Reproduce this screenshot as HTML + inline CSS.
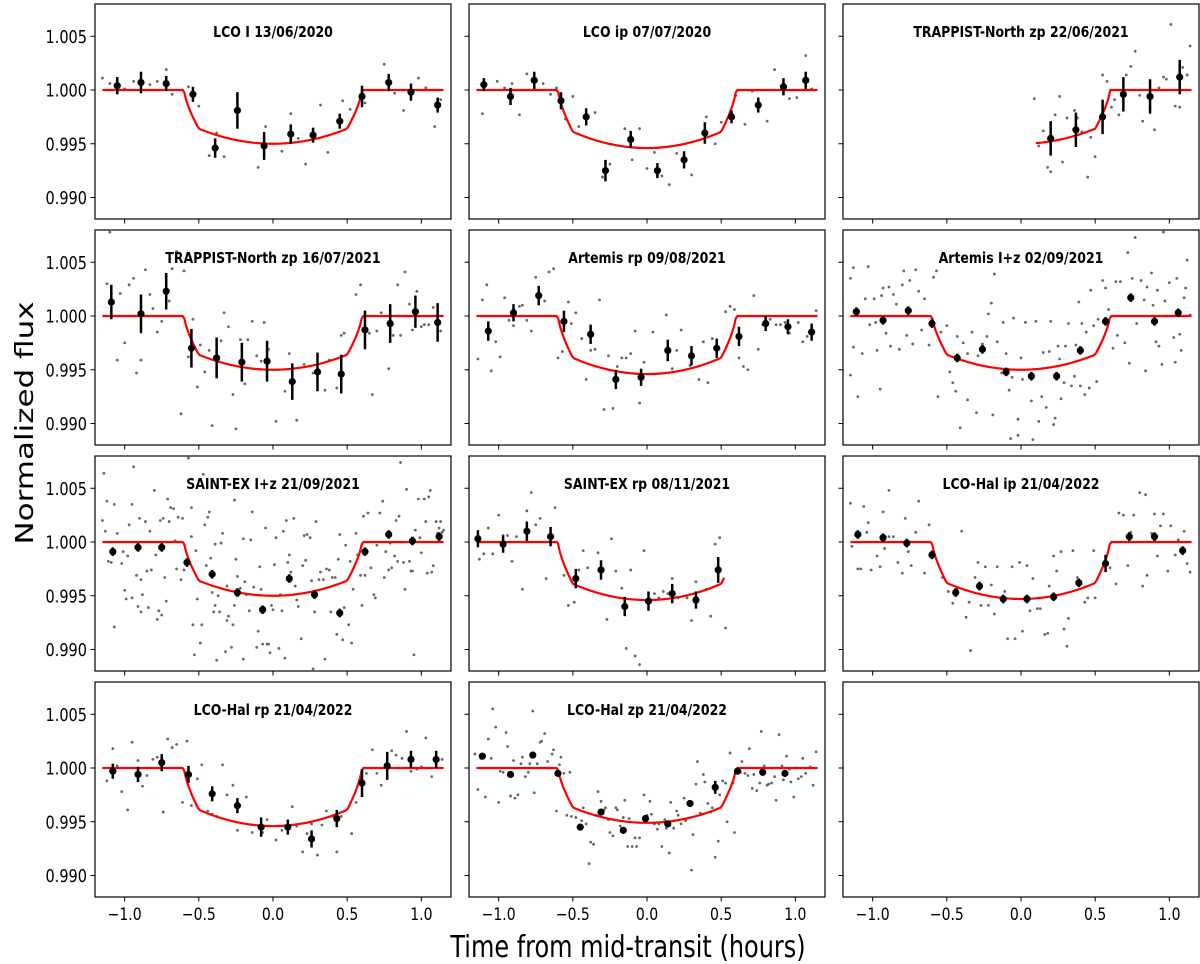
<!DOCTYPE html>
<html><head><meta charset="utf-8"><style>
html,body{margin:0;padding:0;background:#fff;}
svg{display:block;font-family:"DejaVu Sans","Liberation Sans",sans-serif;}
</style></head><body>
<svg id="fig" width="1200" height="964" viewBox="0 0 1200 964" xmlns="http://www.w3.org/2000/svg">
<text x="0" y="0" font-size="31" text-anchor="middle" transform="translate(33 423) rotate(-90) scale(1 0.8)">Normalized flux</text>
<text x="0" y="0" font-size="24" text-anchor="middle" transform="translate(628 957) scale(1 1.27)">Time from mid-transit (hours)</text>
</svg>
<script>
const titles=["LCO I 13/06/2020","LCO ip 07/07/2020","TRAPPIST-North zp 22/06/2021","TRAPPIST-North zp 16/07/2021","Artemis rp 09/08/2021","Artemis I+z 02/09/2021","SAINT-EX I+z 21/09/2021","SAINT-EX rp 08/11/2021","LCO-Hal ip 21/04/2022","LCO-Hal rp 21/04/2022","LCO-Hal zp 21/04/2022"];
const depths=[5.0,5.4,5.0,5.0,5.4,5.0,5.0,5.4,5.3,5.4,5.1];
const modelStart=[-1.15,-1.15,0.1,-1.15,-1.15,-1.15,-1.15,-1.15,-1.15,-1.15,-1.15];
const modelEnd=[1.15,1.15,1.15,1.15,1.15,1.15,1.15,0.52,1.15,1.15,1.15];
const xTicks=[-1.0,-0.5,0.0,0.5,1.0];
const xTickLabels=["\u22121.0","\u22120.5","0.0","0.5","1.0"];
const yTicks=[5,0,-5,-10];
const yTickLabels=["1.005","1.000","0.995","0.990"];
const binT=[
[-1.05,-0.89,-0.72,-0.54,-0.39,-0.24,-0.06,0.12,0.27,0.45,0.60,0.78,0.93,1.11],
[-1.10,-0.92,-0.76,-0.58,-0.41,-0.28,-0.11,0.07,0.25,0.39,0.57,0.75,0.92,1.07],
[0.2,0.37,0.55,0.69,0.87,1.07],
[-1.09,-0.89,-0.72,-0.55,-0.38,-0.21,-0.04,0.13,0.30,0.46,0.62,0.79,0.96,1.11],
[-1.07,-0.90,-0.73,-0.56,-0.38,-0.21,-0.04,0.14,0.30,0.47,0.62,0.80,0.95,1.11],
[-1.11,-0.93,-0.76,-0.60,-0.43,-0.26,-0.10,0.07,0.24,0.40,0.57,0.74,0.90,1.06],
[-1.08,-0.91,-0.75,-0.58,-0.41,-0.24,-0.07,0.11,0.28,0.45,0.62,0.78,0.94,1.12],
[-1.14,-0.97,-0.81,-0.65,-0.48,-0.31,-0.15,0.01,0.17,0.33,0.48],
[-1.1,-0.93,-0.77,-0.60,-0.44,-0.28,-0.12,0.04,0.22,0.39,0.57,0.73,0.90,1.09],
[-1.08,-0.91,-0.75,-0.57,-0.41,-0.24,-0.08,0.10,0.26,0.43,0.60,0.77,0.93,1.10],
[-1.11,-0.92,-0.77,-0.60,-0.45,-0.31,-0.16,-0.01,0.14,0.29,0.46,0.61,0.78,0.93]];
const binF=[
[0.4,0.7,0.6,-0.4,-5.4,-1.9,-5.2,-4.1,-4.2,-2.9,-0.6,0.7,-0.2,-1.4],
[0.5,-0.6,0.9,-1.0,-2.5,-7.5,-4.6,-7.5,-6.5,-4.0,-2.5,-1.4,0.3,0.9],
[-4.5,-3.7,-2.5,-0.4,-0.6,1.2],
[1.3,0.2,2.3,-3.0,-3.9,-4.3,-4.2,-6.1,-5.2,-5.4,-1.3,-0.7,0.4,-0.6],
[-1.4,0.3,1.9,-0.5,-1.7,-5.9,-5.7,-3.2,-3.7,-3.0,-1.9,-0.7,-1.0,-1.5],
[0.4,-0.4,0.5,-0.7,-3.9,-3.1,-5.2,-5.6,-5.6,-3.2,-0.5,1.7,-0.5,0.3],
[-0.9,-0.5,-0.5,-1.9,-3.0,-4.7,-6.3,-3.4,-4.9,-6.6,-0.9,0.7,0.1,0.5],
[0.3,-0.2,1.0,0.5,-3.4,-2.6,-6.0,-5.5,-4.8,-5.4,-2.6],
[0.7,0.4,-0.1,-1.2,-4.7,-4.1,-5.3,-5.3,-5.1,-3.8,-2.0,0.5,0.5,-0.8],
[-0.3,-0.6,0.5,-0.6,-2.4,-3.5,-5.5,-5.5,-6.6,-4.7,-1.4,0.2,0.8,0.8],
[1.1,-0.6,1.2,-0.5,-5.5,-4.1,-5.8,-4.7,-5.2,-3.3,-1.8,-0.3,-0.4,-0.5]];
const binE=[
[0.8,1.0,0.7,0.7,0.9,1.7,1.3,0.9,0.7,0.7,1.0,0.8,0.8,0.7],
[0.6,0.8,0.8,0.8,0.8,1.0,0.8,0.7,0.8,1.0,0.6,0.7,0.8,0.8],
[1.6,1.6,1.6,1.6,1.6,1.6],
[1.6,1.8,1.7,1.8,1.9,1.8,1.9,1.7,1.8,1.8,1.8,1.8,1.5,1.8],
[0.9,0.8,0.9,1.0,0.9,0.9,0.8,1.0,0.9,0.9,0.9,0.7,0.7,0.8],
[0.4,0.4,0.4,0.4,0.4,0.4,0.4,0.4,0.4,0.4,0.4,0.4,0.4,0.4],
[0.4,0.4,0.4,0.4,0.4,0.4,0.4,0.4,0.4,0.4,0.4,0.4,0.4,0.4],
[0.8,0.8,0.9,0.9,0.9,0.9,0.9,0.9,0.9,0.8,1.2],
[0.4,0.4,0.4,0.4,0.4,0.4,0.4,0.4,0.4,0.4,0.8,0.4,0.4,0.4],
[0.7,0.7,0.8,0.8,0.7,0.7,0.9,0.7,0.8,0.8,1.3,1.3,0.8,0.8],
[0.3,0.3,0.3,0.3,0.3,0.3,0.3,0.3,0.3,0.3,0.6,0.3,0.3,0.3]];
const scatT=[
[-1.15,-1.1,-1.0,-0.94,-0.83,-0.78,-0.72,-0.68,-0.61,-0.57,-0.5,-0.43,-0.38,-0.33,-0.1,-0.05,0.06,0.12,0.17,0.22,0.32,0.37,0.45,0.47,0.52,0.62,0.75,0.82,0.88,0.98,1.03,1.09,1.13],
[-1.11,-1.01,-0.96,-0.91,-0.86,-0.81,-0.70,-0.65,-0.61,-0.55,-0.50,-0.46,-0.35,-0.30,-0.25,-0.15,-0.10,-0.05,0,0.05,0.10,0.15,0.20,0.30,0.40,0.46,0.50,0.60,0.66,0.71,0.81,0.86,0.96,1.01,1.07,1.11],
[0.09,0.12,0.15,0.18,0.2,0.23,0.26,0.28,0.31,0.36,0.38,0.41,0.45,0.47,0.5,0.55,0.58,0.61,0.63,0.66,0.71,0.74,0.77,0.80,0.82,0.87,0.90,0.93,0.96,0.98,1.01,1.04,1.07,1.09,1.12,1.14],
[-1.12,-1.10,-1.05,-1.03,-1.0,-0.97,-0.94,-0.92,-0.89,-0.86,-0.83,-0.81,-0.78,-0.75,-0.70,-0.68,-0.65,-0.62,-0.60,-0.57,-0.54,-0.51,-0.49,-0.46,-0.43,-0.41,-0.38,-0.35,-0.33,-0.30,-0.27,-0.25,-0.22,-0.19,-0.17,-0.14,-0.11,-0.08,-0.06,-0.03,0.02,0.08,0.11,0.16,0.21,0.27,0.35,0.38,0.43,0.46,0.48,0.56,0.59,0.65,0.67,0.70,0.73,0.78,0.81,0.84,0.86,0.89,0.92,0.94,0.97,1.0,1.02,1.05,1.08,1.11,1.13],
[-1.14,-1.11,-1.08,-1.05,-1.02,-0.99,-0.96,-0.93,-0.90,-0.86,-0.84,-0.81,-0.78,-0.75,-0.69,-0.66,-0.63,-0.60,-0.57,-0.53,-0.51,-0.48,-0.44,-0.41,-0.38,-0.35,-0.32,-0.29,-0.26,-0.23,-0.20,-0.17,-0.14,-0.11,-0.08,-0.05,-0.02,0.04,0.13,0.17,0.20,0.23,0.29,0.35,0.38,0.41,0.44,0.53,0.56,0.59,0.62,0.65,0.68,0.72,0.75,0.78,0.83,0.87,0.90,0.93,0.96,1.02,1.05,1.08,1.14],
[-1.15,-1.15,-1.13,-1.13,-1.10,-1.07,-1.05,-1.03,-1.02,-0.99,-0.98,-0.97,-0.95,-0.94,-0.93,-0.91,-0.89,-0.88,-0.86,-0.84,-0.82,-0.80,-0.79,-0.77,-0.75,-0.73,-0.71,-0.69,-0.67,-0.65,-0.62,-0.59,-0.57,-0.56,-0.54,-0.50,-0.48,-0.46,-0.44,-0.43,-0.41,-0.39,-0.36,-0.36,-0.33,-0.30,-0.29,-0.26,-0.23,-0.22,-0.20,-0.19,-0.18,-0.16,-0.13,-0.12,-0.10,-0.08,-0.07,-0.06,-0.05,-0.02,-0.02,0,0.01,0.03,0.06,0.07,0.08,0.10,0.12,0.14,0.15,0.17,0.19,0.20,0.22,0.23,0.25,0.26,0.27,0.29,0.30,0.32,0.34,0.36,0.37,0.39,0.40,0.41,0.43,0.44,0.46,0.47,0.49,0.51,0.52,0.55,0.57,0.59,0.62,0.64,0.65,0.67,0.70,0.72,0.73,0.75,0.77,0.78,0.81,0.83,0.84,0.85,0.88,0.89,0.91,0.92,0.93,0.95,0.96,0.97,0.98,1.00,1.03,1.04,1.05,1.07,1.08,1.10,1.11,1.12,1.14],
[-1.15,-1.14,-1.13,-1.12,-1.11,-1.09,-1.07,-1.07,-1.05,-1.02,-1.01,-1.00,-0.99,-0.98,-0.97,-0.95,-0.95,-0.94,-0.92,-0.91,-0.90,-0.89,-0.89,-0.88,-0.86,-0.85,-0.84,-0.83,-0.82,-0.80,-0.79,-0.78,-0.77,-0.76,-0.75,-0.74,-0.73,-0.72,-0.71,-0.70,-0.69,-0.67,-0.66,-0.65,-0.64,-0.62,-0.61,-0.60,-0.58,-0.57,-0.55,-0.55,-0.54,-0.53,-0.52,-0.51,-0.49,-0.48,-0.47,-0.46,-0.45,-0.44,-0.43,-0.42,-0.41,-0.40,-0.39,-0.39,-0.38,-0.37,-0.36,-0.35,-0.34,-0.32,-0.31,-0.31,-0.30,-0.28,-0.27,-0.26,-0.26,-0.25,-0.24,-0.22,-0.20,-0.20,-0.19,-0.18,-0.16,-0.15,-0.14,-0.13,-0.11,-0.10,-0.09,-0.08,-0.07,-0.06,-0.05,-0.04,-0.03,-0.02,-0.01,0.00,0.01,0.02,0.04,0.05,0.06,0.07,0.08,0.09,0.10,0.11,0.12,0.14,0.15,0.16,0.17,0.19,0.20,0.21,0.22,0.23,0.25,0.26,0.27,0.28,0.29,0.31,0.32,0.34,0.35,0.36,0.38,0.39,0.40,0.42,0.43,0.44,0.45,0.47,0.48,0.49,0.51,0.52,0.53,0.54,0.56,0.57,0.59,0.60,0.61,0.62,0.64,0.66,0.68,0.69,0.70,0.72,0.74,0.75,0.76,0.78,0.79,0.80,0.82,0.83,0.84,0.85,0.86,0.88,0.89,0.90,0.92,0.93,0.94,0.95,0.96,0.98,0.99,1.00,1.02,1.03,1.04,1.05,1.06,1.07,1.08,1.10,1.11,1.12,1.13,1.14,1.15],
[-1.13,-1.10,-1.07,-1.04,-1.00,-0.97,-0.94,-0.91,-0.88,-0.84,-0.81,-0.78,-0.75,-0.72,-0.68,-0.65,-0.62,-0.56,-0.53,-0.49,-0.46,-0.43,-0.40,-0.33,-0.27,-0.24,-0.21,-0.17,-0.14,-0.11,-0.08,-0.05,-0.02,0.05,0.08,0.11,0.14,0.17,0.21,0.27,0.30,0.33,0.40,0.43,0.46,0.49,0.53],
[-1.15,-1.14,-1.10,-1.08,-1.06,-1.04,-1.03,-1.01,-0.97,-0.95,-0.93,-0.92,-0.89,-0.89,-0.86,-0.83,-0.80,-0.78,-0.76,-0.74,-0.71,-0.69,-0.65,-0.62,-0.59,-0.53,-0.49,-0.46,-0.43,-0.40,-0.37,-0.35,-0.34,-0.31,-0.29,-0.27,-0.24,-0.22,-0.20,-0.18,-0.16,-0.11,-0.09,-0.06,-0.04,-0.01,0.01,0.04,0.06,0.08,0.11,0.13,0.16,0.18,0.19,0.22,0.24,0.27,0.29,0.31,0.32,0.35,0.38,0.43,0.45,0.49,0.50,0.60,0.64,0.66,0.69,0.72,0.74,0.76,0.80,0.82,0.84,0.85,0.88,0.90,0.92,0.94,0.96,0.99,1.01,1.04,1.06,1.10,1.12,1.14],
[-1.12,-1.08,-1.05,-1.02,-0.98,-0.95,-0.91,-0.88,-0.85,-0.81,-0.78,-0.74,-0.71,-0.68,-0.65,-0.61,-0.58,-0.55,-0.51,-0.48,-0.44,-0.41,-0.38,-0.34,-0.31,-0.27,-0.24,-0.18,-0.14,-0.07,-0.04,0.02,0.06,0.13,0.16,0.20,0.23,0.26,0.30,0.33,0.36,0.40,0.43,0.46,0.53,0.56,0.63,0.67,0.70,0.73,0.77,0.80,0.83,0.87,0.90,0.93,0.97,1.00,1.03,1.07,1.10,1.14],
[-1.16,-1.14,-1.12,-1.09,-1.07,-1.05,-1.04,-1.02,-1.00,-0.99,-0.97,-0.95,-0.94,-0.92,-0.90,-0.89,-0.87,-0.85,-0.84,-0.82,-0.80,-0.79,-0.77,-0.76,-0.74,-0.72,-0.71,-0.69,-0.67,-0.66,-0.64,-0.63,-0.61,-0.59,-0.58,-0.56,-0.54,-0.52,-0.51,-0.48,-0.46,-0.44,-0.43,-0.41,-0.39,-0.38,-0.36,-0.34,-0.33,-0.31,-0.29,-0.28,-0.26,-0.25,-0.23,-0.21,-0.20,-0.18,-0.16,-0.15,-0.13,-0.12,-0.10,-0.08,-0.07,-0.05,-0.02,0.00,0.02,0.03,0.05,0.07,0.08,0.10,0.12,0.13,0.15,0.16,0.18,0.20,0.21,0.23,0.25,0.26,0.30,0.31,0.33,0.34,0.36,0.38,0.39,0.41,0.43,0.44,0.46,0.48,0.49,0.51,0.53,0.54,0.56,0.58,0.59,0.61,0.63,0.64,0.66,0.68,0.69,0.71,0.72,0.74,0.76,0.77,0.79,0.81,0.82,0.84,0.86,0.87,0.89,0.91,0.92,0.94,0.96,0.97,0.99,1.00,1.02,1.04,1.05,1.07,1.10,1.12,1.14]];
const scatF=[
[1.1,0.6,0.1,0.8,0.5,0.8,1.9,-0.4,0,0.3,-1.5,-6.1,-4.0,-6.2,-7.2,-3.4,-5.7,-2.2,-4.5,-6.9,-1.4,-5.8,-3.0,-1.0,-1.8,-1.2,2.4,-0.3,-1.9,1.1,0.2,-3.4,-0.9],
[-2.2,0.8,0.2,0.6,-2.3,1.5,0.6,-0.4,0.2,-2.7,-0.6,-3.4,-2.1,-8.1,-6.9,-3.6,-6.5,-3.6,-7.3,-5.8,-8.0,-8.8,-5.9,-7.9,-2.5,-5.0,-3.0,-0.5,-3.2,-0.1,-2.9,1.9,-0.8,-0.7,3.2,0.1],
[-0.8,-5.2,-3.8,-7.2,-7.6,-2.3,-0.6,-6.7,-2.6,-1.9,-2.6,-3.9,-8.1,-4.4,-6.2,1.4,0.8,-1.6,-0.9,-2.3,1.4,2.2,3.6,-0.5,-2.9,-1.6,-3.7,0.2,1.2,1.0,6.1,-1.5,-1.6,2.1,1.4,4.1],
[3.0,7.8,-4.1,2.1,-2.5,2.9,3.5,-5.3,-4.1,4.3,2.0,0.7,-1.5,-0.5,1.4,4.4,6.0,-9.1,4.2,-3.8,-0.3,-6.6,-2.7,-5.2,-3.2,-10.2,-5.2,-2.3,0.3,-1.0,-7.3,-10.5,-2.2,-6.3,-2.2,-0.5,-3.7,-4.2,-0.6,-3.1,-9.8,-7.0,-3.5,-9.7,-4.5,-5.3,-6.9,-4.1,-6.7,-1.8,-1.6,2.0,2.9,-1.6,-7.3,-1.4,0.3,-4.9,-1.8,2.9,-1.8,4.1,1.1,-1.3,2.3,-1.0,-0.8,-0.8,0.8,0.9,-1.4],
[-4.0,1.5,2.9,-5.1,-2.4,-3.8,1.7,-0.4,-0.9,0.9,1.0,-0.4,-1.4,3.6,1.4,4.1,4.4,-3.9,-3.3,1.3,-0.7,0.3,-2.1,-5.9,-3.2,-3.1,1.5,-8.7,-3.7,-8.6,-4.7,-3.9,-3.9,-3.5,-1.4,-8.1,-4.3,-1.5,0.1,-4.9,-3.2,-1.3,-4.6,-5.9,-2.4,-6.2,-2.1,0.4,0.9,0.6,-3.9,-4.7,-5.0,1.9,-3.1,-0.8,-0.3,-0.8,-0.8,-0.6,-1.6,-0.6,-2.4,-1.9,0.5],
[3.5,-5.5,4.5,-2.9,-7.5,-3.5,1.6,4.6,-0.8,1.6,-0.6,-3.2,-6.8,1.9,2.6,-1.6,2.7,-2.8,2.0,1.1,-3.1,2.9,4.2,-1.8,3.3,-2.6,4.3,2.3,-1.3,1.6,-2.7,3.6,4.2,-7.5,-1.5,-0.9,-5.2,-6.2,-7.0,-1.9,-10.4,-2.5,-3.5,-7.8,-1.5,-9.0,-3.7,-2.6,-1.9,0.2,1.2,-9.2,3.9,-2.4,-5.3,-0.6,-3.5,-6.9,-11.4,-5.7,-0.2,-9.6,-11.1,-3.9,-5.9,-0.6,-5.5,-7.9,-11.5,-0.5,-9.8,-7.5,-3.4,-8.5,-3.3,-0.5,-10.1,-9.5,-2.8,-4.0,-7.7,-6.2,-2.8,-0.7,-6.5,-5.6,-2.7,1.3,-6.5,-0.7,-7.3,-1.5,-6.7,2.4,-0.9,-6.1,-0.3,3.3,2.6,0.6,-3.0,3.2,-1.8,3.2,-2.5,5.9,-4.4,3.5,7.3,-0.7,3.3,1.5,-5.1,2.7,4.0,1.0,-2.4,2.4,-2.8,-4.5,7.8,1.4,0.0,3.1,-2.0,-4.3,3.5,-1.7,-3.2,1.7,2.6,5.2,0.1],
[2.0,6.4,1.0,3.8,-1.8,-1.9,3.5,-7.9,0.8,-2.0,-0.9,-4.5,-5.3,-1.3,1.6,-5.2,3.5,7.0,-3.1,-6.0,2.2,-6.5,-3.5,-4.9,1.9,-2.7,-6.1,1.0,-2.6,4.8,-1.2,-7.2,-6.4,2.0,-6.8,2.2,-3.3,-5.5,4.0,1.9,3.2,3.1,0.1,-2.5,2.3,-3.5,2.2,-2.6,-2.2,7.8,0.5,3.2,-7.7,-10.5,-0.8,-5.3,-9.4,-7.7,6.3,1.6,-2.2,2.3,2.8,-1.5,-4.7,-6.5,-5.9,-0.2,-11.0,-5.0,-6.5,-0.1,0.8,-10.2,-4.1,-7.3,-6.9,-9.8,-7.7,-5.9,3.9,-1.6,-3.2,-4.3,0.3,-10.9,-3.7,-4.9,-6.4,0.2,2.8,-4.2,-9.8,-8.3,-2.3,-4.4,-9.5,-6.1,1.3,-9.5,-9.5,-10.3,-5.9,-6.3,-2.1,0.4,-9.9,-4.9,-6.4,1.0,-10.8,2.0,-1.9,-1.2,-2.8,2.2,-4.1,-5.4,-6.0,-9.0,-2.2,0.6,-1.7,0.7,0.4,-3.6,-11.8,-6.5,1.9,-3.5,-2.8,-3.5,-10.9,-2.5,-2.6,-6.5,-3.3,-3.3,-8.6,-1.6,0.7,-9.1,-6.1,-0.3,-7.7,-1.8,-9.4,-4.4,0.8,-1.2,-3.1,-5.9,2.4,-3.1,2.7,-2.4,-4.9,-5.2,-0.3,2.7,3.8,-3.3,-0.9,-2.6,-0.1,-2.4,-1.3,2.0,-1.8,2.4,7.4,-1.9,-4.4,4.9,-1.8,-2.7,-2.7,-10.5,1.1,4.0,0.4,-1.0,4.0,1.9,-2.9,4.2,4.8,-2.8,-2.2,1.9,0.8,1.3,1.9,0.9,1.1],
[-1.6,-1.1,1.3,-1.1,2.5,0.6,0.6,-1.8,0.5,-4.4,2.9,4.6,1.6,2.2,-3.4,0.6,3.2,-3.1,-5.9,-5.6,-2.6,-0.8,-2.4,-1.0,-7.2,0.3,-2.7,-4.3,-9.9,-2.6,-10.6,-11.4,-0.8,-4.8,-5.2,-4.6,-4.8,-3.4,-5.2,-5.2,-7.3,-3.7,-4.4,-6.9,-0.2,0.4,-8.0],
[3.6,-0.4,-2.5,-2.5,3.3,0.9,1.8,-2.6,-1.3,-2.3,2.8,-0.6,0.5,4.8,0.5,-1.9,-2.9,2.2,-0.9,-2.2,0.9,3.8,-2.9,1.6,-0.9,-3.3,-4.6,-5.7,-4.3,1.0,-7.0,-5.6,-10.1,-3.3,-1.9,-5.9,-2.3,-5.9,-4.0,-6.7,-2.3,-4.6,-9.0,-2.3,-9.0,-1.9,-8.3,-2.2,-6.4,-3.4,-6.2,-6.2,-8.6,-8.5,-4.1,-1.3,-2.7,-0.9,-8.1,-9.7,-7.1,-0.8,-3.3,-5.6,-5.2,-0.8,-5.2,-2.4,-3.9,2.7,2.5,-2.2,0.9,2.5,4.6,-4.1,4.4,-3.1,0.8,2.6,-1.3,1.5,2.6,-2.7,1.5,-1.2,0.2,1.0,-2.0,-2.8],
[-1.2,1.8,0.2,-2.2,-3.9,2.4,0.7,-1.7,-0.7,0.8,1.0,-4.1,2.7,1.9,2.2,-3.2,2.5,-3.5,-1.0,0.3,-4.0,-4.3,-4.5,0.3,-2.5,-1.6,-5.8,-2.7,-6.0,-6.0,-4.8,-6.7,-5.8,-3.6,-5.4,-7.8,-6.1,-5.2,-8.1,-5.3,-4.0,-4.5,-7.8,-4.5,-6.1,-3.2,-0.5,1.7,-0.5,-1.6,0.8,1.6,1.2,0.9,3.4,-0.3,-0.1,0.1,2.8,-0.8,0.8,0.8],
[1.3,-2.0,0.9,-2.7,2.7,0.9,5.5,3.8,-3.2,-0.3,-0.4,3.3,2.0,-2.6,0.7,-2.8,-2.5,0.4,1.0,-0.8,-0.4,0.4,5.3,-2.3,0.4,2.4,2.5,3.2,0.6,0.0,1.3,1.7,-4.0,0.3,1.0,-0.5,-4.4,-0.4,-4.5,-4.6,-5.6,-4.9,-3.7,-5.2,-8.9,-6.9,-7.1,-4.4,-2.2,-3.1,-3.9,-3.7,-4.8,-6.0,-6.3,-3.7,-3.9,-5.4,-4.6,-3.0,-7.3,-4.7,-7.3,-6.5,-7.3,-6.5,-2.5,-4.4,-3.1,-4.3,-5.2,-5.7,-5.2,-7.3,-4.8,-5.6,-7.9,-3.2,-5.6,-4.0,-4.4,-5.2,-2.8,-4.9,-9.5,-6.2,-1.5,0.6,-4.2,-0.6,-1.3,-3.3,-4.1,-3.7,-8.3,-6.8,-2.5,-1.2,-1.4,-5.0,1.4,-1.4,-6.0,-0.4,-0.4,0.6,-0.5,-0.7,1.8,-1.9,-0.6,-2.1,-1.4,3.4,0.2,-1.6,-1.5,-1.4,-0.8,-3.0,3.1,0.2,-1.1,1.1,-0.1,-1.3,-2.7,0.0,-1.0,-0.8,0.9,-0.5,0.1,-1.6,1.5]];

const NS="http://www.w3.org/2000/svg";
const svg=document.getElementById('fig');
const colLeft=[95,469,843], rowTop=[4,230,456,682], PW=356, PH=215;
const XMIN=-1.2, XMAX=1.2, YMIN=-12, YMAX=8;
function mk(tag,attrs,parent){const e=document.createElementNS(NS,tag);for(const k in attrs)e.setAttribute(k,attrs[k]);(parent||svg).appendChild(e);return e;}
function modelFlux(t,d){const a=Math.abs(t);if(a>=0.6)return 0;if(a>=0.5){const u=(0.6-a)/0.1;const s=Math.pow(u,0.7);return -d*0.72*s;}const r=a/0.5;return -d*(0.72+0.28*(1-r*r));}

for(let p=0;p<12;p++){
  const col=p%3,row=Math.floor(p/3);
  const L=colLeft[col],T=rowTop[row];
  const xs=v=>L+(v-XMIN)/(XMAX-XMIN)*PW;
  const ys=v=>T+(YMAX-v)/(YMAX-YMIN)*PH;
  const g=mk('g',{});
  
  
  const clipId='clip'+p;
  const cp=mk('clipPath',{id:clipId},g);
  mk('rect',{x:L,y:T,width:PW,height:PH},cp);
  xTicks.forEach((v,i)=>{
    const tk=mk('line',{x1:xs(v),x2:xs(v),y1:T+PH,y2:T+PH+4.5,stroke:'#000','stroke-width':1},g);
    
    
    if(row===3||(p===11)){
      const lb=mk('text',{x:0,y:0,'font-size':14,'text-anchor':'middle',transform:'translate('+xs(v)+' '+(T+PH+23)+') scale(1 1.23)'},g);
      lb.textContent=xTickLabels[i];
      
      
    }
  });
  yTicks.forEach((v,i)=>{
    const tk=mk('line',{x1:L-4.5,x2:L,y1:ys(v),y2:ys(v),stroke:'#000','stroke-width':1},g);
    
    
    if(col===0){
      const lb=mk('text',{x:0,y:0,'font-size':14.5,'text-anchor':'end',transform:'translate('+(L-8)+' '+(ys(v)+6.5)+') scale(1 1.23)'},g);
      lb.textContent=yTickLabels[i];
      
      
    }
  });
  if(p<11){
    const pg=mk('g',{'clip-path':'url(#'+clipId+')'},g);
    scatT[p].forEach((t,i)=>{
      const c=mk('circle',{cx:xs(t),cy:ys(scatF[p][i]),r:1.4,fill:'#666'},pg);
      
      
    });
    const pts=[];
    const n=200;
    for(let k=0;k<=n;k++){const t=modelStart[p]+(modelEnd[p]-modelStart[p])*k/n;pts.push(xs(t).toFixed(2)+','+ys(modelFlux(t,depths[p])).toFixed(2));}
    const ml=mk('polyline',{points:pts.join(' '),fill:'none',stroke:'#ff0000','stroke-width':2.2},pg);
    
    
    binT[p].forEach((t,i)=>{
      const x=xs(t),y=ys(binF[p][i]),e=binE[p][i];
      const eb=mk('line',{x1:x,x2:x,y1:ys(binF[p][i]+e),y2:ys(binF[p][i]-e),stroke:'#000','stroke-width':2.5},pg);
      
      
      const c=mk('circle',{cx:x,cy:y,r:3.6,fill:'#000'},pg);
      
      
    });
    const tt=mk('text',{x:0,y:0,'font-size':12.5,'font-weight':'bold','text-anchor':'middle',transform:'translate('+(L+PW/2)+' '+(T+33)+') scale(1 1.2)'},g);
    tt.textContent=titles[p];
    
    
  }
  const fr=mk('rect',{x:L,y:T,width:PW,height:PH,fill:'none',stroke:'#000','stroke-width':1.2},g);
  
  
}
</script>
</body></html>
